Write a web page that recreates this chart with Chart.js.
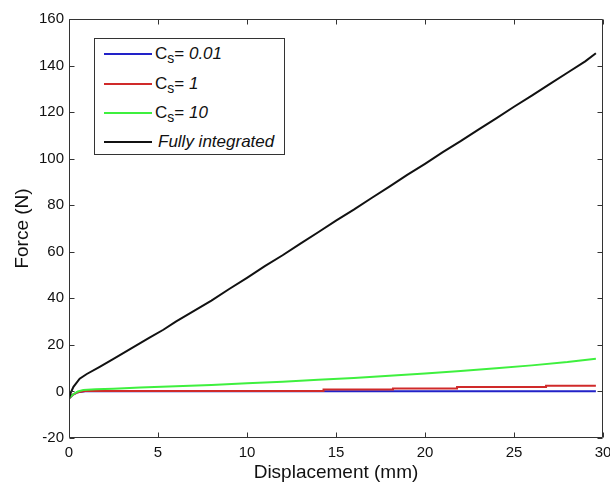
<!DOCTYPE html>
<html><head><meta charset="utf-8">
<script src="https://cdn.jsdelivr.net/npm/chart.js@4"></script>
<style>
html,body{margin:0;padding:0;background:#fff;}
#wrap{position:relative;width:610px;height:482px;overflow:hidden;}
#legend{position:absolute;left:94px;top:38px;width:191px;height:117px;border:1px solid #333;background:#fff;font-family:"Liberation Sans",Arial,sans-serif;font-size:17px;color:#111;box-sizing:border-box;}
.item{position:absolute;left:9px;height:22px;display:flex;align-items:center;white-space:nowrap;}
.ln{display:inline-block;width:48px;height:2px;margin-right:3px;}
sub{font-size:14px;vertical-align:-4px;line-height:0;}
</style>
</head><body>
<div id="wrap">
<canvas id="c" width="610" height="482"></canvas>
<div id="legend">
 <div class="item" style="top:4px"><span class="ln" style="background:#2222c8"></span><span>C<sub>s</sub>= <i>0.01</i></span></div>
 <div class="item" style="top:34px"><span class="ln" style="background:#d02a2a"></span><span>C<sub>s</sub>= <i>1</i></span></div>
 <div class="item" style="top:63px"><span class="ln" style="background:#3ef03e"></span><span>C<sub>s</sub>= <i>10</i></span></div>
 <div class="item" style="top:92px"><span class="ln" style="background:#111"></span><span style="margin-left:3px"><i>Fully integrated</i></span></div>
</div>
</div>
<script>
// ---- data (displacement in mm, force in N) ----
const dispFull  = [0, 0.1, 0.25, 0.6, 1.0, 1.7, 2.5, 3.5, 4.5, 5.3, 6, 7, 8, 9, 10, 11, 12, 13, 14, 15, 16, 17, 18, 19, 20, 21, 22, 23, 24, 25, 26, 27, 28, 29, 29.6];
const forceFull = [-3, -0.5, 2, 5.5, 7.5, 10.5, 14, 18.5, 23, 26.5, 30, 34.5, 39, 44, 48.8, 53.8, 58.5, 63.5, 68.4, 73.4, 78.1, 83.1, 88, 93, 97.8, 102.8, 107.5, 112.5, 117.3, 122.3, 127.1, 132, 136.9, 141.8, 145.3];

const dispCs10  = [0, 0.1, 0.25, 0.5, 0.8, 1.5, 2.5, 4, 6, 8, 10, 12, 14, 16, 18, 20, 22, 24, 26, 28, 29.6];
const forceCs10 = [-3, -2.2, -1.2, 0, 0.6, 0.9, 1.2, 1.7, 2.2, 2.8, 3.5, 4.2, 5.0, 5.8, 6.7, 7.7, 8.8, 10, 11.2, 12.6, 14];

const dispCs1   = [0, 0.2, 0.5, 0.9, 14.3, 14.3, 18.2, 18.2, 21.8, 21.8, 26.8, 26.8, 29.6];
const forceCs1  = [-3, -1.5, -0.3, 0.2, 0.2, 0.8, 0.8, 1.3, 1.3, 1.9, 1.9, 2.4, 2.4];

const dispCs001  = [0, 0.2, 0.5, 0.9, 29.6];
const forceCs001 = [-3, -1.5, -0.3, 0.1, 0.1];

const seriesLabels = ['Cs= 0.01', 'Cs= 1', 'Cs= 10', 'Fully integrated'];
const xTicks = [0, 5, 10, 15, 20, 25, 30];
const yTicks = [-20, 0, 20, 40, 60, 80, 100, 120, 140, 160];

function pts(xs, ys){ return xs.map((x,i)=>({x:x, y:ys[i]})); }

const FONT = '"Liberation Sans", Arial, sans-serif';

const frame = {
  id:'frame',
  afterDatasetsDraw(chart){
    const {ctx, chartArea:a, scales:{x, y}} = chart;
    ctx.save();
    ctx.strokeStyle = '#333';
    ctx.lineWidth = 1;
    const L = Math.round(a.left)+0.5, R = Math.round(a.right)-0.5, T = Math.round(a.top)+0.5, B = Math.round(a.bottom)-0.5;
    ctx.beginPath();
    ctx.rect(L, T, R-L, B-T);
    const tl = 5;
    xTicks.forEach(v=>{
      const px = Math.round(x.getPixelForValue(v))+0.5;
      ctx.moveTo(px, B); ctx.lineTo(px, B-tl);
      ctx.moveTo(px, T); ctx.lineTo(px, T+tl);
    });
    yTicks.forEach(v=>{
      const py = Math.round(y.getPixelForValue(v))+0.5;
      ctx.moveTo(L, py); ctx.lineTo(L+tl, py);
      ctx.moveTo(R, py); ctx.lineTo(R-tl, py);
    });
    ctx.stroke();
    ctx.restore();
  }
};

const ds = (label, xs, ys, color, order) => ({
  label, data: pts(xs, ys), borderColor: color, backgroundColor: color,
  borderWidth: 2, pointRadius: 0, tension: 0, fill: false, order
});

new Chart(document.getElementById('c'), {
  type: 'line',
  data: { datasets: [
    ds(seriesLabels[0], dispCs001, forceCs001, '#2222c8', 4),
    ds(seriesLabels[1], dispCs1, forceCs1, '#d02a2a', 3),
    ds(seriesLabels[2], dispCs10, forceCs10, '#3ef03e', 2),
    ds(seriesLabels[3], dispFull, forceFull, '#111111', 1)
  ]},
  options: {
    responsive: false, animation: false,
    layout: { padding: { left: 0, right: 7, top: 19, bottom: 0 } },
    plugins: { legend: { display: false }, tooltip: { enabled: false } },
    scales: {
      x: {
        type: 'linear', min: 0, max: 30,
        afterBuildTicks(s){ s.ticks = xTicks.map(v=>({value:v})); },
        ticks: { color: '#111', font: { family: FONT, size: 15 }, padding: 6, maxRotation: 0, autoSkip: false },
        grid: { display: false, drawTicks: false },
        border: { display: false },
        title: { display: true, text: 'Displacement (mm)', color: '#111', font: { family: FONT, size: 19, lineHeight: 1.0 }, padding: { top: 0, bottom: 0 } },
        afterFit(s){ s.height = 44; s.paddingLeft = 0; s.paddingRight = 0; }
      },
      y: {
        type: 'linear', min: -20, max: 160,
        afterBuildTicks(s){ s.ticks = yTicks.map(v=>({value:v})); },
        ticks: { color: '#111', font: { family: FONT, size: 15 }, padding: 5, autoSkip: false },
        grid: { display: false, drawTicks: false },
        border: { display: false },
        title: { display: true, text: 'Force (N)', color: '#111', font: { family: FONT, size: 19 }, padding: { top: 11, bottom: 0 } },
        afterFit(s){ s.width = 69; s.paddingTop = 0; s.paddingBottom = 0; }
      }
    }
  },
  plugins: [frame]
});
</script>
</body></html>
